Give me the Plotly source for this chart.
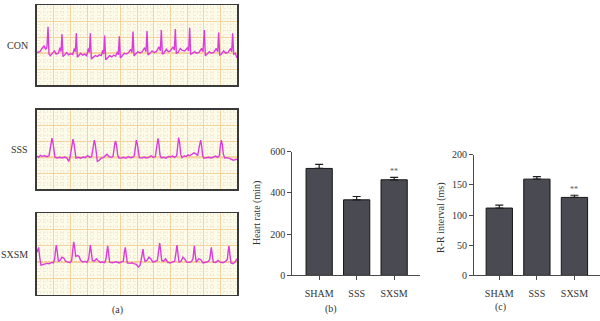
import plotly.graph_objects as go

# ---------------- data ----------------
con_t = [0.00,0.18,0.30,0.42,0.52,0.60,0.66,0.72,0.80,0.92,1.05,1.15,1.28,1.38,1.44,1.50,1.56,1.66,1.78,1.90,
         2.02,2.14,2.24,2.30,2.36,2.42,2.52,2.62,2.74,2.86,2.98,3.08,3.14,3.20,3.26,3.38,3.50,3.62,3.74,3.86,
         3.94,4.00,4.06,4.12,4.22,4.36,4.48,4.60,4.72,4.82,4.88,4.94,5.00,5.10,5.24,5.36,5.50,5.62,5.70,5.76,
         5.82,5.92,6.06,6.18,6.30,6.46,6.54,6.60,6.66,6.76,6.90,7.02,7.16,7.32,7.40,7.46,7.52,7.62,7.76,7.88,
         8.00,8.16,8.24,8.30,8.36,8.46,8.60,8.72,8.86,9.02,9.10,9.16,9.22,9.32,9.46,9.58,9.72,9.88,9.96,10.04,
         10.10,10.20,10.34,10.46,10.60,10.76,10.84,10.90,10.96,11.06,11.20,11.32,11.46,11.62,11.68,11.74,11.80,11.90,12.00]
con_v = [2.05,2.10,2.30,2.45,2.25,2.40,3.66,1.95,1.85,2.00,2.15,1.95,2.00,2.35,2.10,3.20,1.80,1.90,2.05,1.90,
         1.98,1.92,2.30,2.10,3.26,1.75,1.85,2.00,1.88,1.95,1.85,2.30,2.05,3.26,1.65,1.75,1.85,1.80,1.90,1.85,
         2.20,1.95,3.12,1.60,1.70,1.85,1.78,1.88,1.82,2.10,1.90,3.06,1.70,1.85,2.00,1.95,2.05,2.25,2.05,3.36,
         1.85,1.95,2.10,2.02,2.08,2.35,2.10,3.40,1.90,1.98,2.15,2.05,2.10,2.40,2.15,3.46,1.95,2.02,2.25,2.10,
         2.15,2.40,2.20,3.52,2.00,2.05,2.30,2.18,2.15,2.35,2.15,3.60,1.95,2.00,2.10,2.00,2.05,2.30,2.10,3.46,
         1.85,1.95,2.10,2.00,2.05,2.30,2.10,3.30,1.90,1.95,2.15,2.00,2.05,2.30,2.10,3.26,1.95,2.00,1.70]

sss_t = [0.00,0.10,0.20,0.30,0.46,0.60,0.72,0.80,0.86,0.90,0.96,1.02,1.08,1.20,1.36,1.52,1.66,1.80,1.90,1.98,
         2.06,2.12,2.16,2.22,2.28,2.34,2.48,2.62,2.78,2.90,3.04,3.18,3.28,3.34,3.40,3.44,3.50,3.56,3.62,3.72,
         3.86,4.00,4.10,4.20,4.32,4.46,4.56,4.62,4.68,4.72,4.78,4.84,4.92,5.06,5.20,5.34,5.48,5.62,5.76,5.84,
         5.90,5.96,6.02,6.08,6.14,6.28,6.42,6.56,6.70,6.84,6.98,7.10,7.16,7.22,7.26,7.32,7.38,7.46,7.60,7.74,
         7.88,8.00,8.14,8.26,8.38,8.44,8.50,8.56,8.62,8.70,8.84,8.96,9.06,9.16,9.30,9.42,9.56,9.64,9.72,9.78,
         9.82,9.88,9.94,10.02,10.16,10.30,10.46,10.60,10.72,10.84,10.94,11.00,11.06,11.12,11.18,11.26,11.40,11.54,11.66,11.78,
         11.90,12.00]
sss_v = [2.08,2.00,2.12,2.06,2.10,2.04,2.10,2.60,3.10,3.20,2.90,2.30,2.00,1.96,2.00,1.96,2.02,1.95,1.74,2.00,
         2.55,3.05,3.14,2.85,2.25,1.95,2.00,1.95,2.02,1.98,2.10,2.00,2.05,2.50,3.00,3.08,2.80,2.20,1.74,1.80,
         1.95,2.00,2.08,2.20,2.05,2.00,2.05,2.55,2.95,2.98,2.70,2.15,1.95,1.96,2.00,1.94,2.05,1.98,2.02,2.10,
         2.70,3.08,2.85,2.20,1.98,1.95,2.02,1.96,2.00,2.10,2.00,2.05,2.65,3.15,3.20,2.80,2.15,1.96,2.00,1.95,
         2.05,2.02,2.08,2.00,2.10,2.70,3.24,2.90,2.20,1.98,2.10,2.05,2.16,2.10,2.20,2.28,2.20,2.10,2.60,3.05,
         3.08,2.70,2.10,1.95,1.98,2.00,1.96,2.05,2.08,2.00,2.10,2.70,3.08,2.80,2.20,1.96,1.98,1.94,1.88,1.82,
         1.86,1.88]

sxsm_t = [0.00,0.06,0.10,0.16,0.24,0.34,0.46,0.60,0.74,0.86,0.98,1.06,1.12,1.16,1.22,1.28,1.38,1.50,1.60,1.72,
          1.86,1.98,2.08,2.14,2.20,2.26,2.32,2.42,2.52,2.62,2.74,2.88,3.00,3.10,3.16,3.20,3.26,3.32,3.44,3.56,
          3.66,3.80,3.94,4.06,4.14,4.20,4.24,4.30,4.36,4.50,4.64,4.78,4.92,5.06,5.18,5.24,5.30,5.36,5.42,5.56,
          5.68,5.82,5.96,6.08,6.18,6.26,6.32,6.36,6.42,6.48,6.60,6.72,6.82,6.96,7.10,7.22,7.30,7.36,7.42,7.48,
          7.60,7.72,7.84,7.98,8.12,8.26,8.34,8.40,8.46,8.52,8.64,8.76,8.86,8.98,9.12,9.26,9.36,9.40,9.44,9.50,
          9.56,9.70,9.82,9.96,10.10,10.24,10.36,10.42,10.46,10.52,10.58,10.72,10.86,11.00,11.14,11.28,11.42,11.48,11.52,11.58,
          11.64,11.76,11.88,12.00]
sxsm_v = [2.60,2.85,2.90,2.30,1.80,1.84,1.90,1.92,1.90,1.98,1.95,2.20,2.80,3.04,2.60,2.05,2.10,2.30,2.25,2.05,
          2.00,1.96,2.10,2.80,3.24,2.90,2.35,2.40,2.35,2.10,2.00,2.05,1.98,2.20,2.80,3.04,2.60,2.10,2.05,2.20,
          2.10,1.98,2.00,1.96,2.20,2.80,3.00,2.50,2.00,1.96,1.98,2.02,1.95,2.00,2.05,2.60,2.90,2.40,1.95,1.92,
          1.96,1.90,1.86,1.70,1.80,2.20,2.70,2.80,2.30,2.05,2.10,2.30,2.20,2.00,2.05,2.10,2.70,3.16,2.70,2.10,
          2.05,2.20,2.00,1.95,2.00,2.05,2.60,3.04,2.50,2.00,2.05,2.30,2.20,2.00,1.98,2.02,2.20,2.80,3.00,2.40,
          2.00,2.20,2.15,1.95,2.00,2.02,2.15,2.70,2.90,2.40,2.00,1.98,2.10,2.00,1.96,2.02,2.15,2.75,3.00,2.40,
          1.95,1.90,2.00,2.20]

ecg_labels = ["CON", "SSS", "SXSM"]

groups = ["SHAM", "SSS", "SXSM"]
hr_mean = [518, 366, 463]
hr_err = [20, 16, 12]
rr_mean = [111.6, 159.5, 129.2]
rr_err = [5.0, 4.3, 3.6]
sig_marks = ["", "", "**"]
hr_ticks = [0, 200, 400, 600]
rr_ticks = [0, 50, 100, 150, 200]

# ---------------- styling ----------------
W, H = 600, 321
SERIF = "Liberation Serif, Times New Roman, serif"
ECG_BG = "#fdfbe9"
GRID_MAJ = "#f4d39c"
GRID_MIN = "#f6ecd6"
BASE_LINE = "#f2b45e"
TRACE = "#dc3cdc"
BAR_FILL = "#4a4a52"
AX_COL = "#4a4a4a"
TXT = "#333333"

def px_x(p):
    return p / W

def px_y(p):
    return 1 - p / H

fig = go.Figure()

ecg_series = [(con_t, con_v), (sss_t, sss_v), (sxsm_t, sxsm_v)]
ecg_boxes = [(0.5, 83.0), (108.3, 190.7), (215.5, 300.0)]  # top, bottom pixels
ecg_x = [px_x(37), px_x(237)]

layout = dict(
    width=W, height=H, autosize=False,
    margin=dict(l=0, r=0, t=0, b=0),
    paper_bgcolor="white", plot_bgcolor="white",
    showlegend=False,
    font=dict(family=SERIF, size=10, color=TXT),
)
shapes = []
annotations = []

for i, ((t, v), (top, bot), lab) in enumerate(zip(ecg_series, ecg_boxes, ecg_labels)):
    n = i + 1
    xa = "xaxis" if n == 1 else f"xaxis{n}"
    ya = "yaxis" if n == 1 else f"yaxis{n}"
    xr = "x" if n == 1 else f"x{n}"
    yr = "y" if n == 1 else f"y{n}"
    fig.add_trace(go.Scatter(x=t, y=v, mode="lines", xaxis=xr, yaxis=yr,
                             line=dict(color=TRACE, width=1.4), hoverinfo="skip"))
    common = dict(showline=True, mirror=True, linecolor="#3a3a3a", linewidth=1.6,
                  showgrid=True, gridcolor=GRID_MAJ, gridwidth=1, zeroline=False,
                  showticklabels=False, ticks="", fixedrange=True,
                  minor=dict(dtick=0.2, showgrid=True, gridcolor=GRID_MIN, griddash="dot", gridwidth=1))
    layout[xa] = dict(domain=ecg_x, range=[0, 12], dtick=1, tick0=0, anchor=yr, **common)
    layout[ya] = dict(domain=[px_y(bot), px_y(top)], range=[0, 5], dtick=1, tick0=0, anchor=xr, **common)
    shapes.append(dict(type="rect", xref="paper", yref="paper", x0=ecg_x[0], x1=ecg_x[1],
                       y0=px_y(bot), y1=px_y(top),
                       fillcolor=ECG_BG, line=dict(width=0), layer="below"))
    shapes.append(dict(type="line", xref="paper", yref=yr, x0=ecg_x[0], x1=ecg_x[1], y0=2, y1=2,
                       line=dict(color=BASE_LINE, width=1.6), layer="below"))
    annotations.append(dict(text=lab, x=px_x(29.5), y=px_y((top + bot) / 2 + 0.5), xref="paper", yref="paper",
                            xanchor="right", yanchor="middle", showarrow=False,
                            font=dict(family=SERIF, size=10, color=TXT)))

# ---------------- bar panels ----------------
bar_panels = [
    dict(n=4, vals=hr_mean, errs=hr_err, yr=[0, 600], ticks=hr_ticks,
         xdom=[px_x(292.3), px_x(420)], ydom=[px_y(280), px_y(151.7)], xrange=[-0.717, 2.69],
         title="Heart rate (min)", tx=256.5, ty=216, label="(b)", lx=331, ly=315, star_off=27),
    dict(n=5, vals=rr_mean, errs=rr_err, yr=[0, 200], ticks=rr_ticks,
         xdom=[px_x(474), 1.0], ydom=[px_y(280), px_y(155)], xrange=[-0.673, 2.68],
         title="R-R interval (ms)", tx=441.5, ty=220, label="(c)", lx=500, ly=313, star_off=9),
]
for p in bar_panels:
    n = p["n"]
    xr, yr = f"x{n}", f"y{n}"
    fig.add_trace(go.Bar(x=groups, y=p["vals"], xaxis=xr, yaxis=yr, width=0.7,
                         marker=dict(color=BAR_FILL, line=dict(color="#161616", width=1)),
                         error_y=dict(type="data", symmetric=False, array=p["errs"], arrayminus=[0, 0, 0],
                                      color="#1e1e1e", thickness=1.2, width=4),
                         hoverinfo="skip"))
    layout[f"xaxis{n}"] = dict(domain=p["xdom"], range=p["xrange"], anchor=yr, type="category",
                               showline=True, linecolor=AX_COL, linewidth=1, ticks="outside", ticklen=4,
                               tickcolor=AX_COL, tickwidth=1, showgrid=False, zeroline=False,
                               ticklabelstandoff=5,
                               tickfont=dict(family=SERIF, size=10, color=TXT), fixedrange=True)
    layout[f"yaxis{n}"] = dict(domain=p["ydom"], range=p["yr"], anchor=xr, tickvals=p["ticks"],
                               showline=True, linecolor=AX_COL, linewidth=1, ticks="outside", ticklen=4,
                               tickcolor=AX_COL, tickwidth=1, showgrid=False, zeroline=False,
                               tickfont=dict(family=SERIF, size=10, color=TXT), fixedrange=True)
    annotations.append(dict(text=p["title"], x=px_x(p["tx"]), y=px_y(p["ty"]), xref="paper", yref="paper",
                            textangle=-90, showarrow=False, xanchor="center", yanchor="middle",
                            font=dict(family=SERIF, size=10, color=TXT)))
    annotations.append(dict(text=p["label"], x=px_x(p["lx"]), y=px_y(p["ly"]), xref="paper", yref="paper",
                            showarrow=False, xanchor="center", yanchor="middle",
                            font=dict(family=SERIF, size=10, color=TXT)))
    for g, m, e, s in zip(groups, p["vals"], p["errs"], sig_marks):
        if s:
            annotations.append(dict(text=s, x=g, y=m + e + p["star_off"], xref=xr, yref=yr,
                                    showarrow=False, xanchor="center", yanchor="middle",
                                    font=dict(family=SERIF, size=8, color="#555555")))

annotations.append(dict(text="(a)", x=px_x(117), y=px_y(316), xref="paper", yref="paper",
                        showarrow=False, xanchor="center", yanchor="middle",
                        font=dict(family=SERIF, size=10, color=TXT)))

layout["shapes"] = shapes
layout["annotations"] = annotations
fig.update_layout(**layout)
fig.write_html("out.html", config={"displayModeBar": False, "staticPlot": True},
               post_script="document.body.style.margin='0';document.body.style.overflow='hidden';")
